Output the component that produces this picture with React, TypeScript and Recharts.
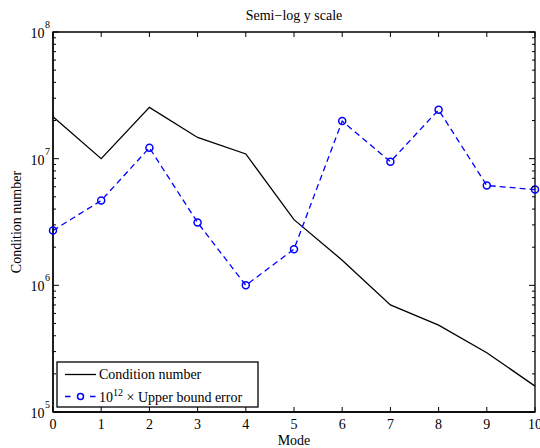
import { LineChart, Line, XAxis, YAxis, ReferenceArea } from "recharts";

const modes = [0, 1, 2, 3, 4, 5, 6, 7, 8, 9, 10];
const conditionNumber = [
  2.14e7, 1.0e7, 2.54e7, 1.47e7, 1.09e7, 3.3e6, 1.58e6, 7.0e5, 4.85e5, 2.94e5, 1.6e5,
];
const upperBoundError = [
  2.71e6, 4.67e6, 1.22e7, 3.13e6, 1.0e6, 1.93e6, 1.98e7, 9.46e6, 2.43e7, 6.14e6, 5.7e6,
];
const decades = [5, 6, 7, 8];
const xTicks = [0, 1, 2, 3, 4, 5, 6, 7, 8, 9, 10];

const data = modes.map((m, i) => ({
  mode: m,
  cond: conditionNumber[i],
  err: upperBoundError[i],
}));

// major + minor log ticks
const yTicks: number[] = [];
decades.forEach((d, i) => {
  yTicks.push(Math.pow(10, d));
  if (i < decades.length - 1) {
    for (let k = 2; k <= 9; k++) yTicks.push(k * Math.pow(10, d));
  }
});

const W = 540;
const H = 448;
const LEFT = 53;
const RIGHT = 535;
const TOP = 32;
const BOTTOM = 412;
const FONT = '"Liberation Serif", "Times New Roman", serif';

function XTick({ x, payload }: any) {
  return (
    <g>
      <line x1={x} x2={x} y1={BOTTOM} y2={BOTTOM - 5} stroke="#000" />
      <line x1={x} x2={x} y1={TOP} y2={TOP + 5} stroke="#000" />
      <text x={x} y={429} textAnchor="middle" fontSize={14} fontFamily={FONT} fill="#000">
        {payload.value}
      </text>
    </g>
  );
}

function YTick({ y, payload }: any) {
  const v = payload.value;
  const exp = Math.round(Math.log10(v));
  const major = Math.abs(Math.log10(v) - exp) < 1e-9;
  const len = major ? 6 : 3;
  return (
    <g>
      <line x1={LEFT} x2={LEFT + len} y1={y} y2={y} stroke="#000" />
      <line x1={RIGHT} x2={RIGHT - len} y1={y} y2={y} stroke="#000" />
      {major && (
        <g fontFamily={FONT} fill="#000">
          <text x={44.5} y={y + 6} textAnchor="end" fontSize={14}>
            10
          </text>
          <text x={45} y={y - 4} fontSize={10}>
            {exp}
          </text>
        </g>
      )}
    </g>
  );
}

export default function App() {
  return (
    <div style={{ position: "absolute", left: 0, top: 0, width: W, height: H, background: "#fff" }}>
      <LineChart
        width={W}
        height={H}
        data={data}
        margin={{ top: TOP, right: W - RIGHT, bottom: 0, left: 0 }}
      >
        <XAxis
          dataKey="mode"
          type="number"
          domain={[0, 10]}
          ticks={xTicks}
          interval={0}
          height={H - BOTTOM}
          axisLine={{ stroke: "#000", strokeWidth: 1.3 }}
          tickLine={false}
          tick={<XTick />}
        />
        <YAxis
          scale="log"
          domain={[1e5, 1e8]}
          allowDataOverflow
          ticks={yTicks}
          interval={0}
          width={LEFT}
          axisLine={{ stroke: "#000", strokeWidth: 1.3 }}
          tickLine={false}
          tick={<YTick />}
        />
        <ReferenceArea
          x1={0}
          x2={10}
          y1={1e5}
          y2={1e8}
          fill="none"
          stroke="#000"
          strokeWidth={1.3}
          ifOverflow="visible"
        />
        <Line
          dataKey="cond"
          stroke="#000"
          strokeWidth={1.3}
          dot={false}
          isAnimationActive={false}
        />
        <Line
          dataKey="err"
          stroke="#0000ff"
          strokeWidth={1.3}
          strokeDasharray="6 4"
          dot={{ r: 3.5, stroke: "#0000ff", fill: "none", strokeWidth: 1.5, strokeDasharray: "none" }}
          isAnimationActive={false}
        />
        <text x={(LEFT + RIGHT) / 2} y={20} textAnchor="middle" fontSize={14} fontFamily={FONT} fill="#000">
          Semi−log y scale
        </text>
        <text x={(LEFT + RIGHT) / 2} y={445} textAnchor="middle" fontSize={14} fontFamily={FONT} fill="#000">
          Mode
        </text>
        <text
          x={21}
          y={(TOP + BOTTOM) / 2}
          textAnchor="middle"
          fontSize={14}
          fontFamily={FONT}
          fill="#000"
          transform={`rotate(-90 21 ${(TOP + BOTTOM) / 2})`}
        >
          Condition number
        </text>
        <g fontFamily={FONT} fill="#000">
          <rect x={57} y={362} width={201} height={45} fill="#fff" stroke="#000" strokeWidth={1.3} />
          <line x1={65} x2={96} y1={374.5} y2={374.5} stroke="#000" strokeWidth={1.3} />
          <text x={99} y={379} fontSize={14}>
            Condition number
          </text>
          <line x1={65} x2={96} y1={396.5} y2={396.5} stroke="#0000ff" strokeWidth={1.3} strokeDasharray="5.5 19.5" />
          <circle cx={80.5} cy={396.5} r={3} stroke="#0000ff" fill="none" strokeWidth={1.5} />
          <text x={99} y={401.5} fontSize={14}>
            10
            <tspan dy={-6} fontSize={10}>
              12
            </tspan>
            <tspan dy={6}> × Upper bound error</tspan>
          </text>
        </g>
      </LineChart>
    </div>
  );
}
